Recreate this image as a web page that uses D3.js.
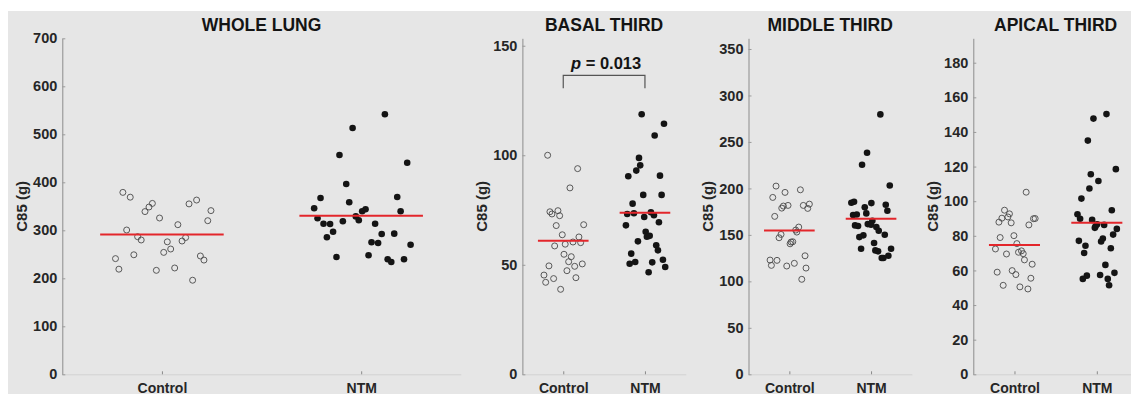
<!DOCTYPE html>
<html>
<head>
<meta charset="utf-8">
<script src="https://cdn.jsdelivr.net/npm/d3@7"></script>
<style>
  body { margin: 0; background: #fff; }
  svg { display: block; font-family: "Liberation Sans", Arial, Helvetica, sans-serif; }
</style>
</head>
<body>
<svg id="chart" width="1131" height="394"></svg>
<script>
// ---- data ----
const groups = ["Control", "NTM"];
const titles = ["WHOLE LUNG", "BASAL THIRD", "MIDDLE THIRD", "APICAL THIRD"];
const yMax = [700, 153.4, 361.5, 194.1];
const yTicks = [
  [0, 100, 200, 300, 400, 500, 600, 700],
  [0, 50, 100, 150],
  [0, 50, 100, 150, 200, 250, 300, 350],
  [0, 20, 40, 60, 80, 100, 120, 140, 160, 180]
];
const controlMeans = [291, 61.0, 154.6, 74.7];
const ntmMeans = [330.4, 73.7, 167.3, 87.5];

// jitter is the horizontal offset of each point, in category units
const wholeControl = [379, 369, 356, 348.5, 339, 325.6, 355, 363, 341, 320, 311.7, 300.6, 286.7, 279.8, 276, 285, 277.7, 261, 254, 249, 241, 246.5, 238, 219, 216.6, 221.5, 196];
const wholeControlJit = [-0.196, -0.159, -0.048, -0.065, -0.085, -0.012, 0.136, 0.174, 0.246, 0.230, 0.080, -0.177, -0.122, -0.104, 0.027, 0.119, 0.101, 0.044, 0.009, -0.141, -0.233, 0.193, 0.211, -0.216, -0.028, 0.064, 0.154];
const wholeNtm = [541.7, 513, 456.9, 440.8, 396.5, 367.3, 369.4, 358.3, 345.8, 343.7, 339.6, 339.6, 329, 325, 320.8, 318.7, 313.8, 313, 313.8, 297, 292.3, 293, 285.4, 275, 273.5, 270, 248, 244.4, 239.6, 234, 239.6];
const wholeNtmJit = [0.119, -0.043, -0.109, 0.231, -0.075, -0.204, 0.181, -0.060, -0.236, 0.022, 0.005, 0.198, -0.027, -0.219, -0.012, -0.092, -0.189, -0.156, 0.070, -0.141, 0.103, 0.166, -0.172, 0.052, 0.085, 0.248, 0.037, -0.124, 0.133, 0.151, 0.215];

const basalControl = [100.0, 93.9, 85.1, 74.2, 74.7, 73.2, 72.4, 68.3, 67.9, 63.7, 62.7, 58.6, 59.4, 60.4, 60.1, 54.8, 53.7, 51.4, 49.3, 50.4, 49.5, 47.3, 45.3, 43.7, 44.1, 42.0, 38.8];
const basalControlJit = [-0.191, 0.176, 0.082, -0.163, -0.065, -0.138, -0.044, 0.250, -0.086, -0.012, 0.192, -0.105, 0.024, 0.119, 0.213, 0.009, 0.098, 0.066, 0.140, 0.233, -0.175, 0.045, -0.236, -0.118, 0.155, -0.215, -0.032];
const basalNtm = [118.7, 114.4, 109.0, 98.8, 95.4, 93.0, 90.4, 90.7, 81.9, 81.9, 77.9, 73.2, 73.5, 74.0, 72.6, 71.8, 69.4, 68.0, 65.1, 62.8, 63.2, 60.7, 58.9, 56.6, 55.1, 52.3, 50.5, 51.3, 51.1, 49.0, 46.6];
const basalNtmJit = [-0.040, 0.233, 0.119, -0.073, -0.058, -0.106, -0.204, 0.184, -0.021, 0.204, -0.151, -0.217, -0.135, 0.073, 0.110, -0.009, 0.171, -0.233, 0.009, 0.024, 0.058, -0.086, 0.138, 0.159, -0.168, 0.220, -0.187, -0.119, 0.089, 0.248, 0.045];

const middleControl = [202.5, 195.7, 198.5, 190.3, 181, 181.7, 178.8, 181.7, 183.1, 178.5, 169.9, 158.4, 153, 155.2, 150.5, 146.9, 142.3, 142.6, 140.4, 122.9, 122.6, 117.2, 116.5, 119.4, 127.5, 114.3, 102.2];
const middleControlJit = [-0.163, -0.053, 0.135, -0.203, -0.073, -0.016, -0.093, 0.171, 0.245, 0.225, -0.179, 0.115, 0.091, 0.078, -0.102, -0.126, 0.021, 0.042, 0.009, -0.236, -0.151, -0.220, -0.032, 0.061, 0.192, 0.204, 0.152];
const middleNtm = [279.6, 238.3, 225.4, 203.2, 184.5, 185.6, 184.2, 182.4, 179.6, 175.9, 171.3, 172, 173.1, 165.2, 161.6, 160.2, 159.5, 160.9, 158.4, 154.4, 150.1, 149.5, 147.6, 141.2, 135.1, 135.1, 133.3, 132.3, 127.5, 125.1, 125.1];
const middleNtmJit = [0.114, -0.049, -0.110, 0.229, -0.241, -0.208, 0.004, 0.180, -0.077, 0.200, -0.220, -0.175, -0.058, 0.016, -0.040, -0.196, -0.159, 0.000, 0.065, 0.094, 0.168, -0.094, -0.143, 0.037, -0.122, 0.245, 0.053, 0.086, 0.212, 0.131, 0.151];

const apicalControl = [105.2, 94.8, 92.7, 90.9, 90.2, 87.9, 87.5, 89.9, 90.0, 86.3, 79.0, 80.1, 75.5, 72.4, 69.5, 70.5, 71.3, 69.7, 66.1, 63.6, 59.0, 59.9, 57.6, 55.5, 51.4, 50.5, 49.3];
const apicalControlJit = [0.142, -0.121, -0.061, -0.080, -0.153, -0.189, -0.040, 0.231, 0.251, 0.175, -0.174, -0.007, 0.029, -0.231, -0.097, 0.049, 0.085, 0.106, 0.121, 0.215, -0.210, -0.028, 0.017, 0.199, -0.137, 0.066, 0.163];
const apicalNtm = [150.3, 147.7, 135.0, 118.5, 115.6, 111.7, 107.3, 101.5, 94.8, 92.5, 89.9, 89.2, 86.7, 84.6, 85.5, 86.3, 84.0, 80.7, 78.4, 76.7, 77.1, 74.3, 72.8, 70.1, 63.2, 58.6, 57.4, 57.0, 55.1, 55.1, 51.4];
const apicalNtmJit = [0.117, -0.041, -0.109, 0.231, -0.073, 0.019, -0.090, -0.187, 0.182, -0.235, -0.203, -0.057, 0.004, -0.024, -0.015, 0.089, 0.243, 0.198, 0.073, 0.052, -0.218, -0.138, 0.170, -0.154, 0.104, 0.214, 0.040, -0.121, -0.170, 0.133, 0.149];

// significance bracket on the basal panel
const pLabel = "0.013";
const bracketTop = 136.5, bracketFoot = 130.6;

const controls = [[wholeControl, wholeControlJit], [basalControl, basalControlJit], [middleControl, middleControlJit], [apicalControl, apicalControlJit]];
const ntms = [[wholeNtm, wholeNtmJit], [basalNtm, basalNtmJit], [middleNtm, middleNtmJit], [apicalNtm, apicalNtmJit]];

// ---- layout ----
const frames = [
  { left: 62.3, right: 460.8 },
  { left: 522.4, right: 685.8 },
  { left: 748.5, right: 911.9 },
  { left: 973.3, right: 1138 }
];
const plotTop = 38.3, plotBottom = 374.3;
const halfMean = 0.31;

const svg = d3.select('#chart');
svg.append('rect')
  .attr('x', 8).attr('y', 11)
  .attr('width', 1131 - 8).attr('height', 394 - 11)
  .attr('fill', '#e6e6e6');

frames.forEach((f, i) => {
  const x = d3.scaleLinear().domain([0.5, 2.5]).range([f.left, f.right]);
  const y = d3.scaleLinear().domain([0, yMax[i]]).range([plotBottom, plotTop]);
  const g = svg.append('g');

  // x axis (faint baseline, inward ticks)
  const xa = g.append('g')
    .attr('transform', `translate(0,${plotBottom})`)
    .call(d3.axisBottom(x).tickValues([1, 2]).tickFormat(k => groups[k - 1])
      .tickSizeInner(-3).tickSizeOuter(0).tickPadding(9));
  xa.select('.domain').attr('stroke', '#d2d2d2');
  xa.selectAll('.tick line').attr('stroke', '#8a8a8a');
  xa.selectAll('.tick text')
    .attr('fill', '#262626').attr('font-size', 14).attr('font-weight', 'bold')
    .attr('font-family', '"Liberation Sans", Arial, sans-serif');

  // y axis
  const ya = g.append('g')
    .attr('transform', `translate(${f.left},0)`)
    .call(d3.axisLeft(y).tickValues(yTicks[i]).tickSizeInner(-3).tickSizeOuter(0).tickPadding(5));
  ya.select('.domain').attr('stroke', '#8c8c8c');
  ya.selectAll('.tick line').attr('stroke', '#9a9a9a');
  ya.selectAll('.tick text')
    .attr('fill', '#262626').attr('font-size', 14.5).attr('font-weight', 'bold')
    .attr('font-family', '"Liberation Sans", Arial, sans-serif');

  // y label
  g.append('text')
    .attr('transform', `translate(${f.left - 41},${(plotTop + plotBottom) / 2}) rotate(-90)`)
    .attr('text-anchor', 'middle').attr('dy', '0.35em')
    .attr('font-size', 15).attr('font-weight', 'bold').attr('fill', '#262626')
    .text('C85 (g)');

  // title
  g.append('text')
    .attr('x', (f.left + f.right) / 2).attr('y', 31)
    .attr('text-anchor', 'middle')
    .attr('font-size', 17.5).attr('font-weight', 'bold').attr('fill', '#141414')
    .text(titles[i]);

  // control: open circles
  const [cv, cj] = controls[i];
  g.selectAll('circle.ctrl')
    .data(cv.map((v, k) => ({ v, j: cj[k] })))
    .enter().append('circle')
    .attr('class', 'ctrl')
    .attr('cx', d => x(1 + d.j)).attr('cy', d => y(d.v))
    .attr('r', 3)
    .attr('fill', 'none').attr('stroke', '#4a4a4a').attr('stroke-width', 0.9);

  // NTM: filled dots
  const [nv, nj] = ntms[i];
  g.selectAll('circle.ntm')
    .data(nv.map((v, k) => ({ v, j: nj[k] })))
    .enter().append('circle')
    .attr('class', 'ntm')
    .attr('cx', d => x(2 + d.j)).attr('cy', d => y(d.v))
    .attr('r', 3.3)
    .attr('fill', '#141414');

  // mean lines
  const means = [controlMeans[i], ntmMeans[i]];
  g.selectAll('line.mean')
    .data(means)
    .enter().append('line')
    .attr('class', 'mean')
    .attr('x1', (d, k) => x(k + 1 - halfMean)).attr('x2', (d, k) => x(k + 1 + halfMean))
    .attr('y1', d => y(d)).attr('y2', d => y(d))
    .attr('stroke', '#e3262b').attr('stroke-width', 2);

  if (i === 1) {
    const bt = y(bracketTop), bf = y(bracketFoot);
    g.append('path')
      .attr('d', `M${x(1)},${bf}V${bt}H${x(2)}V${bf}`)
      .attr('fill', 'none').attr('stroke', '#555').attr('stroke-width', 1.2);
    const t = g.append('text')
      .attr('x', (x(1) + x(2)) / 2 + 2).attr('y', bt - 6)
      .attr('text-anchor', 'middle')
      .attr('font-size', 16.5).attr('font-weight', 'bold').attr('fill', '#141414');
    t.append('tspan').attr('font-style', 'italic').text('p');
    t.append('tspan').text(' = ' + pLabel);
  }
});
</script>
</body>
</html>
